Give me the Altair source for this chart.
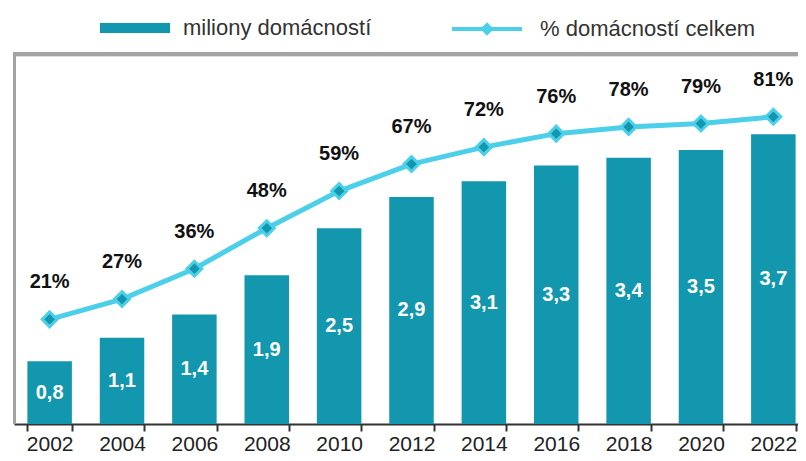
import altair as alt
import pandas as pd

years = ["2002", "2004", "2006", "2008", "2010", "2012", "2014", "2016", "2018", "2020", "2022"]
households = [0.8, 1.1, 1.4, 1.9, 2.5, 2.9, 3.1, 3.3, 3.4, 3.5, 3.7]
share_pct = [21, 27, 36, 48, 59, 67, 72, 76, 78, 79, 81]

BAR_NAME = "miliony domácností"
LINE_NAME = "% domácností celkem"

TEAL = "#1397AF"
CYAN = "#4CCFE8"
FRAME = "#A3A3A3"
FONT = "Liberation Sans"

df = pd.DataFrame({
    "year": years,
    "hh": households,
    "hh_half": [v / 2 for v in households],
    "hh_label": [f"{v:.1f}".replace(".", ",") for v in households],
    "pct": share_pct,
    "pct_label": [f"{v}%" for v in share_pct],
    "s1": BAR_NAME,
    "s2": LINE_NAME,
})

xenc = alt.X(
    "year:N",
    sort=years,
    title=None,
    scale=alt.Scale(paddingInner=0.385, paddingOuter=0.185, range=[0, 795]),
    axis=alt.Axis(
        labelAngle=0, labelFont=FONT, labelFontSize=21, labelColor="#222222",
        domainColor="#333333", domainWidth=2, tickColor="#333333", tickWidth=2,
        tickSize=7, tickBand="extent", labelPadding=2,
    ),
)
xsub = alt.X("year:N", sort=years)

bar_scale = alt.Scale(domain=[0, 4.7], nice=False, zero=True)
line_scale = alt.Scale(domain=[-10, 99], nice=False, zero=False)

frame_top = alt.Chart(df).mark_rule(color=FRAME, strokeWidth=3).encode(
    x=alt.value(0), x2=alt.value(900), y=alt.value(-2)
)
frame_left = alt.Chart(df).mark_rule(color=FRAME, strokeWidth=3).encode(
    x=alt.value(0.5), y=alt.value(-3.5), y2=alt.value(368)
)

bars = alt.Chart(df).mark_bar(color=TEAL).encode(
    x=xenc,
    y=alt.Y("hh:Q", scale=bar_scale, axis=None),
    color=alt.Color(
        "s1:N",
        scale=alt.Scale(domain=[BAR_NAME], range=[TEAL]),
        legend=alt.Legend(
            orient="none", legendX=86, legendY=-63, title=None,
            symbolType="M-1,-0.143H1V0.143H-1Z", symbolSize=4900,
            labelFont=FONT, labelFontSize=22, labelColor="#333333",
            labelOffset=13, labelLimit=400, symbolStrokeWidth=0,
        ),
    ),
)

bar_text = alt.Chart(df).mark_text(
    color="white", font=FONT, fontSize=20, fontWeight="bold", baseline="middle"
).encode(
    x=xsub,
    y=alt.Y("hh_half:Q", scale=bar_scale, axis=None),
    text="hh_label:N",
)

line = alt.Chart(df).mark_line(strokeWidth=5).encode(
    x=xsub,
    y=alt.Y("pct:Q", scale=line_scale, axis=None),
    stroke=alt.Stroke(
        "s2:N",
        scale=alt.Scale(domain=[LINE_NAME], range=[CYAN]),
        legend=alt.Legend(
            orient="none", legendX=436, legendY=-64, title=None,
            symbolType="M-1,0H1M-0.11,0L0,-0.11L0.11,0L0,0.11Z", symbolSize=4900,
            symbolStrokeWidth=4, symbolFillColor=TEAL,
            labelFont=FONT, labelFontSize=22, labelColor="#333333",
            labelOffset=16, labelLimit=400,
        ),
    ),
)

points = alt.Chart(df).mark_point(
    shape="diamond", filled=True, fill=TEAL, stroke=CYAN, strokeWidth=3, size=220, opacity=1
).encode(
    x=xsub,
    y=alt.Y("pct:Q", scale=line_scale, axis=None),
)

pct_text = alt.Chart(df).mark_text(
    color="#111111", font=FONT, fontSize=20, fontWeight="bold", baseline="middle", dy=-37
).encode(
    x=xsub,
    y=alt.Y("pct:Q", scale=line_scale, axis=None),
    text="pct_label:N",
)

chart = alt.layer(
    frame_top, frame_left, bars, bar_text, line, points, pct_text
).resolve_scale(
    y="independent", color="independent", stroke="independent"
).properties(
    width=784, height=368,
    autosize=alt.AutoSizeParams(type="none"),
    padding={"left": 6, "top": 48, "right": 0, "bottom": 29},
).configure_view(
    stroke=None
).configure(background="white")

chart.save("out.html", embed_options={"renderer": "svg", "actions": False})
